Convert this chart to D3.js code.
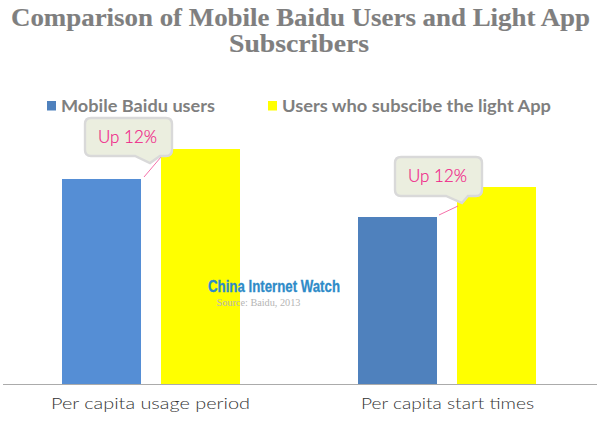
<!DOCTYPE html>
<html><head><meta charset="utf-8">
<script src="https://cdn.jsdelivr.net/npm/d3@7"></script>
<style>html,body{margin:0;padding:0;background:#fff}svg{display:block}</style>
</head><body><svg id="c" width="600" height="429"></svg>
<script>
const categories = ["Per capita usage period", "Per capita start times"];
const seriesNames = ["Mobile Baidu users", "Users who subscibe the light App"];
const mobileBaidu = [205, 167];
const lightApp = [235, 197];
const calloutLabels = ["Up 12%", "Up 12%"];

const svg = d3.select("#c");
const sans = "Lato, 'Open Sans', sans-serif";
const x0 = d3.scaleBand().domain(categories).range([3, 595]);
const x1 = d3.scaleBand().domain(seriesNames).range([0, x0.bandwidth()]).paddingInner(20/99).paddingOuter(0.596);
const y = d3.scaleLinear().domain([0, 250]).range([384, 134]);
const barColors = [["#558ED5", "#FFFF00"], ["#4F81BD", "#FFFF00"]];

function fitted(sel, w){ sel.attr("textLength", w).attr("lengthAdjust", "spacingAndGlyphs"); return sel; }

// title
const tt = svg.append("g").attr("font-family","'Liberation Serif', serif").attr("font-weight","bold")
  .attr("font-size",24.5).attr("fill","#7F7F7F").attr("stroke","#7F7F7F").attr("stroke-width",0.15).attr("text-anchor","middle");
fitted(tt.append("text").attr("x",300.5).attr("y",26).text("Comparison of Mobile Baidu Users and Light App"), 579);
fitted(tt.append("text").attr("x",299).attr("y",52).text("Subscribers"), 140);

// legend
const legend = [{x:47,tx:61,w:154,c:"#4F81BD"},{x:268,tx:282,w:269,c:"#FFFF00"}];
seriesNames.forEach((s,i)=>{
  svg.append("rect").attr("x",legend[i].x).attr("y",101).attr("width",9).attr("height",9.5).attr("fill",legend[i].c);
  fitted(svg.append("text").attr("x",legend[i].tx).attr("y",112).attr("font-family",sans).attr("font-weight","bold")
    .attr("font-size",17).attr("fill","#7F7F7F").text(s), legend[i].w);
});

// bars
categories.forEach((c,i)=>{
  [mobileBaidu[i], lightApp[i]].forEach((v,j)=>{
    svg.append("rect").attr("x",x0(c)+x1(seriesNames[j])).attr("y",y(v))
      .attr("width",x1.bandwidth()).attr("height",y(0)-y(v)).attr("fill",barColors[i][j]);
  });
});

// axis
const axis = d3.axisBottom(x0).tickSize(0).tickPadding(13);
const ag = svg.append("g").attr("transform","translate(0,384)").call(axis);
ag.select(".domain").remove();
ag.append("line").attr("x1",3).attr("x2",597).attr("y1",0.5).attr("y2",0.5).attr("stroke","#ABABAB").attr("stroke-width",1.2);
ag.selectAll("text").attr("font-family",sans).attr("font-size",16.5).attr("font-weight",300).attr("fill","#333333");
ag.selectAll("g.tick text").each(function(d,i){
  const w=[199,173][i], cx=[150.5,447.5][i];
  d3.select(this).attr("x",cx-x0(d)-x0.bandwidth()/2);
  fitted(d3.select(this), w);
});

// callouts, placed relative to the top of the blue bar
const boxes = [{dx:23,dy:-61,w:87,h:38,b0:50,tx:65,ty:45,b1:75,lx0:82,ly0:-2,lx1:99,ly1:-22},
               {dx:37,dy:-60,w:87,h:39,b0:51,tx:67,ty:46,b1:73,lx0:81,ly0:-2,lx1:100,ly1:-11}];
categories.forEach((c,i)=>{
  const bx = x0(c)+x1(seriesNames[0]), by = y(mobileBaidu[i]), b = boxes[i];
  const X = bx+b.dx, Y = by+b.dy, r = 6;
  svg.append("line").attr("x1",bx+b.lx0).attr("y1",by+b.ly0).attr("x2",bx+b.lx1).attr("y2",by+b.ly1)
    .attr("stroke","#F4609F").attr("stroke-width",0.9);
  const path = `M${X+r},${Y}H${X+b.w-r}Q${X+b.w},${Y} ${X+b.w},${Y+r}V${Y+b.h-r}Q${X+b.w},${Y+b.h} ${X+b.w-r},${Y+b.h}`+
    `H${X+b.b1}L${X+b.tx},${Y+b.ty}L${X+b.b0},${Y+b.h}`+
    `H${X+r}Q${X},${Y+b.h} ${X},${Y+b.h-r}V${Y+r}Q${X},${Y} ${X+r},${Y}Z`;
  svg.append("path").attr("d",path).attr("fill","#EBEEDF").attr("stroke","#D9D9D9").attr("stroke-width",2.4);
  fitted(svg.append("text").attr("x",X+b.w/2-1).attr("y",Y+b.h/2+5.5).attr("text-anchor","middle").attr("font-family",sans)
    .attr("font-weight",300).attr("font-size",18).attr("fill","#F01E88").attr("stroke","#F01E88").attr("stroke-width",0.2).text(calloutLabels[i]), 59);
});

// watermark
fitted(svg.append("text").attr("x",208).attr("y",292).attr("font-family","'Liberation Sans Narrow','Liberation Sans',sans-serif")
  .attr("font-weight","bold").attr("font-size",16.5).attr("fill","#2E8BC8").attr("stroke","#2E8BC8").attr("stroke-width",0.3).text("China Internet Watch"), 132);
fitted(svg.append("text").attr("x",216.5).attr("y",305.5).attr("font-family","'Liberation Serif',serif")
  .attr("font-size",10).attr("fill","#B5B5B5").text("Source: Baidu, 2013"), 84);
</script></body></html>
